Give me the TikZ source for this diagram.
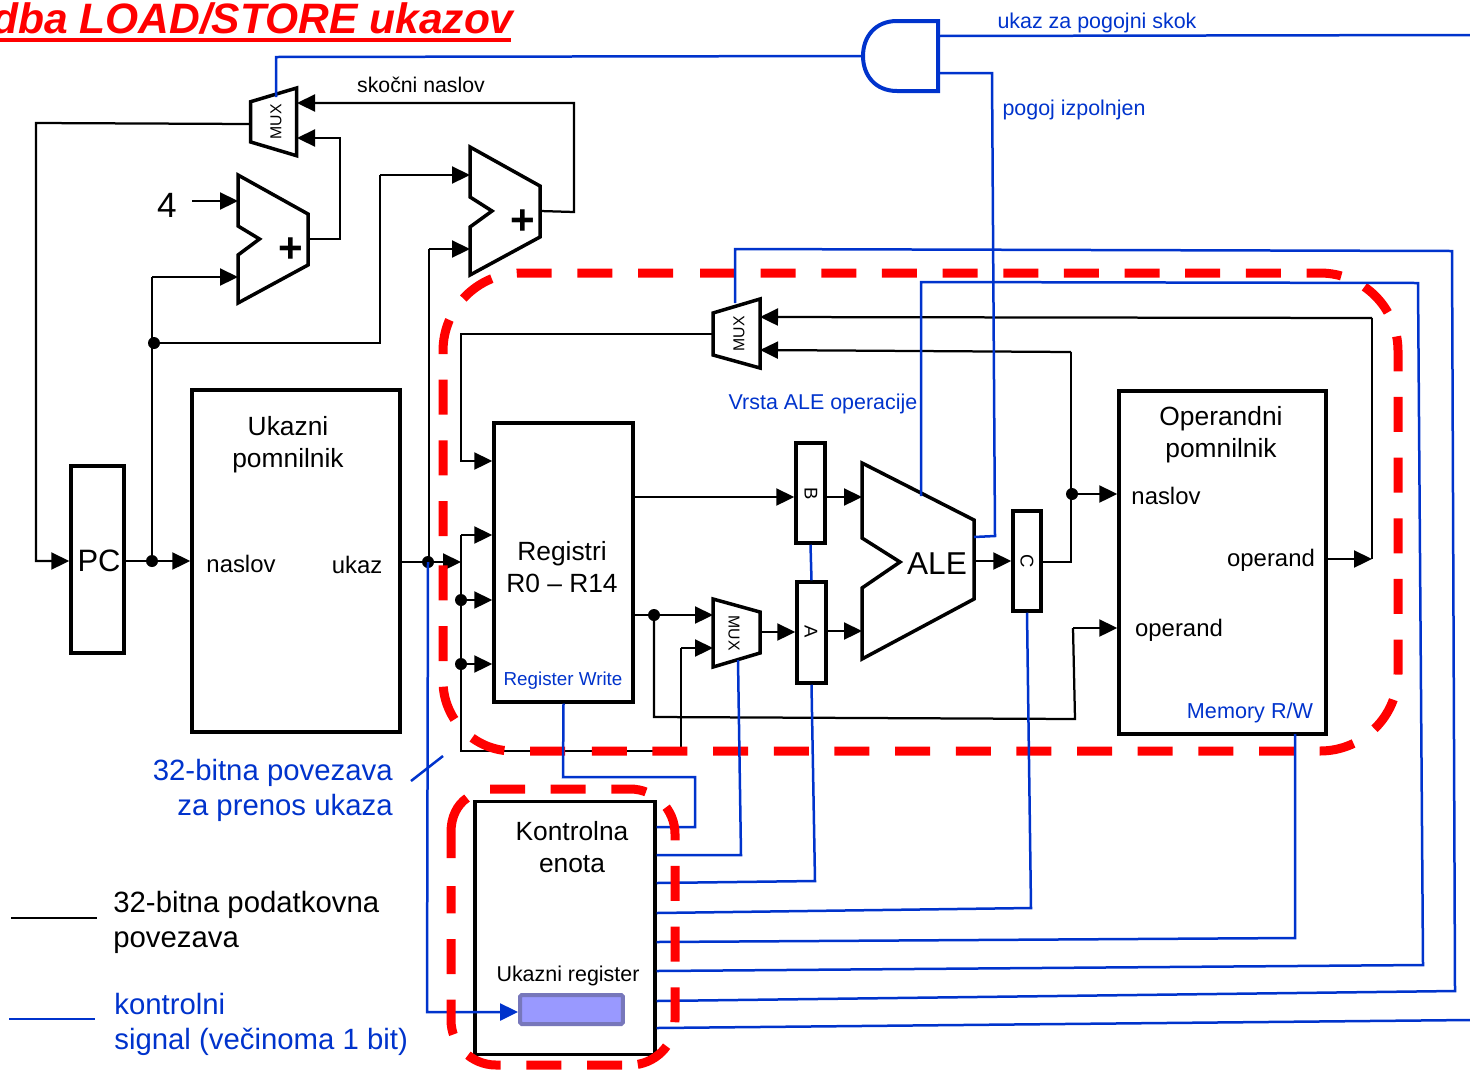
\documentclass[tikz,border=0pt]{standalone}
\usepackage{fontspec}
\setmainfont{Liberation Sans}
\usetikzlibrary{arrows.meta}
\definecolor{ctrlblue}{HTML}{0033CC}
\definecolor{regfill}{HTML}{9999FF}
\definecolor{regedge}{HTML}{7777BB}
\tikzset{
  unit/.style={draw,line width=0.07cm,line join=miter},
  box/.style={unit,rectangle,inner sep=0pt,fill=white},
  data/.style={line width=0.045cm,line join=miter},
  flow/.style={data,-{Triangle[length=0.36cm,width=0.34cm]}},
  ctrl/.style={line width=0.05cm,ctrlblue,line join=miter},
  ctrlflow/.style={ctrl,-{Triangle[length=0.36cm,width=0.34cm]}},
  dot/.style={circle,fill,inner sep=0pt,minimum size=0.24cm},
  zone/.style={red,line width=0.18cm,dash pattern=on 0.7cm off 0.5133cm},
  big/.style={font=\fontsize{15}{18.2}\selectfont,align=center},
  mid/.style={font=\fontsize{13.6}{16}\selectfont},
  small/.style={font=\fontsize{12.2}{14}\selectfont},
  side/.style={font=\fontsize{16.7}{19.9}\selectfont,align=left},
  muxlabel/.style={font=\fontsize{9}{10}\selectfont,inner sep=0pt},
  reglabel/.style={font=\fontsize{10.5}{12}\selectfont,inner sep=0pt,rotate=-90}
}
\begin{document}
\begin{tikzpicture}[x=0.02cm,y=-0.02cm]
  \useasboundingbox (0,0) rectangle (1470,1069);
  % ports
  \coordinate (muxaout) at (250,124);
  \coordinate (muxaina) at (297,103);
  \coordinate (muxainb) at (297,138);
  \coordinate (muxactl) at (276,97);
  \coordinate (addaout) at (308,239);
  \coordinate (addaina) at (238,201);
  \coordinate (addainb) at (238,277);
  \coordinate (addbout) at (540,211);
  \coordinate (addbina) at (470,175);
  \coordinate (addbinb) at (470,249);
  \coordinate (muxbout) at (713,334);
  \coordinate (muxbina) at (760,317);
  \coordinate (muxbinb) at (760,350);
  \coordinate (muxbctl) at (735,303);
  \coordinate (muxcina) at (713,615);
  \coordinate (muxcinb) at (713,648);
  \coordinate (muxcout) at (760,632);
  \coordinate (muxcctl) at (738,660);
  \coordinate (aleina) at (862,497);
  \coordinate (aleinb) at (862,631);
  \coordinate (aleout) at (974,561);
  \coordinate (alectl) at (921,496);
  \coordinate (alecond) at (974,537);
  \coordinate (gatein) at (863,56);
  \coordinate (gateout) at (938,36);
  \coordinate (gatecond) at (938,73);
  \coordinate (skokend) at (1470,35);
  \coordinate (lastend) at (1470,1020);
  % boxes
  \node[box,minimum width=1.06cm,minimum height=3.74cm] (pc) at (97.5,559.5) {};
  \node[box,minimum width=4.16cm,minimum height=6.84cm] (imem) at (296,561) {};
  \node[box,minimum width=2.78cm,minimum height=5.58cm] (regs) at (563.5,562.5) {};
  \node[box,minimum width=0.58cm,minimum height=2cm] (regb) at (810.5,493) {};
  \node[box,minimum width=0.58cm,minimum height=2.02cm] (rega) at (811.5,632.5) {};
  \node[box,minimum width=0.56cm,minimum height=2cm] (regc) at (1027,561) {};
  \node[box,minimum width=4.14cm,minimum height=6.86cm] (dmem) at (1222.5,562.5) {};
  \node[box,minimum width=3.6cm,minimum height=5.06cm] (cu) at (565,928) {};
  \node[draw=regedge,fill=regfill,line width=0.08cm,rounded corners=1pt,minimum width=2.06cm,minimum height=0.58cm,inner sep=0pt] (ir) at (571.5,1009.5) {};
  % shapes
  \draw[unit] (250.7,101.7) -- (296.6,88) -- (296.6,155.7) -- (250.7,142) -- cycle;
  \draw[unit] (238,175) -- (308,214) -- (308,265) -- (238,303) -- (238,255) -- (259.5,239) -- (238,226) -- cycle;
  \draw[unit] (470,147) -- (540,186) -- (540,237) -- (470,275) -- (470,227) -- (492,211) -- (470,197) -- cycle;
  \draw[unit] (713,313) -- (760,299) -- (760,368) -- (713,355) -- cycle;
  \draw[unit] (713,599) -- (760,612) -- (760,653) -- (713,667) -- cycle;
  \draw[unit] (862,463) -- (974,520) -- (974,599) -- (862,659) -- (862,588) -- (900,562) -- (862,538) -- cycle;
  % pc loop
  \draw[flow] (muxaout) -- (36,123) -- (36,561) -- (pc.west |- 0,561);
  \draw[flow] (pc.east |- 0,561) -- (imem.west |- 0,561);
  \draw[data] (152,561) -- (152,277);
  \draw[flow] (152,277) -- (addainb);
  \draw[data] (154,343) -- (380,343) -- (380,175);
  \draw[flow] (380,175) -- (addbina);
  \draw[flow] (addaout) -- (340,239) -- (340,138) -- (muxainb);
  \draw[flow] (addbout) -- (574,212) -- (574,103) -- (muxaina);
  \coordinate (fourend) at (192,201);
  \draw[flow] (fourend) -- (addaina);
  % instruction bus
  \draw[flow] (imem.east |- 0,562) -- (461,562);
  \draw[data] (429,562) -- (429,249);
  \draw[flow] (429,249) -- (addbinb);
  \draw[data] (461,535) -- (461,751) -- (681,751) -- (681,648);
  \draw[flow] (461,535) -- (regs.west |- 0,535);
  \draw[flow] (461,600) -- (regs.west |- 0,600);
  \draw[flow] (461,664) -- (regs.west |- 0,664);
  \draw[flow] (681,648) -- (muxcinb);
  \draw[flow] (muxbout) -- (461,334) -- (461,461) -- (regs.west |- 0,461);
  % data path
  \draw[flow] (regs.east |- 0,497) -- (regb.west |- 0,497);
  \draw[flow] (regb.east |- 0,497) -- (aleina);
  \draw[flow] (regs.east |- 0,615) -- (muxcina);
  \draw[flow] (muxcout) -- (rega.west |- 0,632);
  \draw[flow] (rega.east |- 0,631) -- (aleinb);
  \draw[flow] (aleout) -- (regc.west |- 0,561);
  \draw[data] (regc.east |- 0,562) -- (1071,562) -- (1071,352);
  \draw[flow] (1071,352) -- (muxbinb);
  \draw[flow] (1071,494) -- (dmem.west |- 0,494);
  \draw[flow] (dmem.east |- 0,559) -- (1372,559);
  \draw[data] (1372,559) -- (1372,318);
  \draw[flow] (1372,318) -- (muxbina);
  \draw[data] (654,615) -- (654,717) -- (1075,719) -- (1073,628);
  \draw[flow] (1073,628) -- (dmem.west |- 0,628);
  % junctions
  \node[dot] (jpc) at (152,561) {};
  \node[dot] (jinc) at (154,343) {};
  \node[dot] (jir) at (428,562) {};
  \node[dot] (jwa) at (461,600) {};
  \node[dot] (jwb) at (461,664) {};
  \node[dot] (jrd) at (654,615) {};
  \node[dot] (jadr) at (1072,494) {};
  % dashed zone round the data path
  \draw[zone,rounded corners=1.56cm] (700,273) -- (1398,273) -- (1398,751) -- (567,751);
  \draw[zone,rounded corners=1.4cm] (565,751) -- (443,751) -- (443,548);
  \draw[zone,rounded corners=1.56cm] (443,536) -- (443,273) -- (690,273);
  % control lines
  \draw[ctrl,line width=0.08cm] (897,21) -- (938,21) -- (938,91) -- (897,91) .. controls (875,91) and (863,75) .. (863,56) .. controls (863,37) and (875,21) .. (897,21) -- cycle;
  \draw[ctrl] (gatein) -- (276,57) -- (muxactl);
  \draw[ctrl] (gateout) -- (skokend);
  \draw[ctrl] (gatecond) -- (992,73) -- (995,536) -- (alecond);
  \draw[ctrl] (regb.south) -- (rega.north);
  \draw[ctrl] (regs.south) -- (563,777) -- (695,777) -- (695,827) -- (cu.east |- 0,827);
  \draw[ctrl] (muxcctl) -- (741,855) -- (cu.east |- 0,855);
  \draw[ctrl] (rega.south) -- (815,881) -- (cu.east |- 0,883);
  \draw[ctrl] (regc.south) -- (1031,908) -- (cu.east |- 0,913);
  \draw[ctrl] (1295,734) -- (1295,938) -- (cu.east |- 0,942);
  \draw[ctrl] (alectl) -- (921,282) -- (1418,283) -- (1423,965) -- (cu.east |- 0,971);
  \draw[ctrl] (muxbctl) -- (735,249) -- (1452,251) -- (1455,991) -- (cu.east |- 0,1001);
  \draw[ctrl] (cu.east |- 0,1028) -- (lastend);
  \draw[ctrlflow] (428,562) -- (427,1012) -- (ir.west |- 0,1012);
  \coordinate (ticka) at (411,781);
  \coordinate (tickb) at (443,756);
  \draw[ctrl] (ticka) -- (tickb);
  % dashed zone round the control unit
  \draw[zone,rounded corners=0.9cm] (490,789) -- (675,789) -- (675,1065) -- (626,1065);
  \draw[zone,rounded corners=0.9cm] (622,1065) -- (451,1065) -- (451,886);
  \draw[red,line width=0.18cm] (451,858) -- (451,832) .. controls (451,817) and (457,805) .. (467,798);
  % title
  \node[anchor=base east,inner sep=0pt,text=red,font=\fontsize{24.2}{28}\bfseries\itshape\selectfont] (title) at (514,33) {dba LOAD/STORE ukazov};
  \coordinate (rulea) at (0,39.5);
  \coordinate (ruleb) at (511,39.5);
  \draw[red,line width=0.08cm] (rulea) -- (ruleb);
  % labels
  \node[font=\fontsize{12.1}{14}\selectfont] (jump) at (421,85) {skočni naslov};
  \node[font=\fontsize{20}{24}\selectfont] (four) at (167,205) {4};
  \node[font=\fontsize{24}{24}\bfseries\selectfont,inner sep=0pt] (plusa) at (291,250) {+};
  \node[font=\fontsize{24}{24}\bfseries\selectfont,inner sep=0pt] (plusb) at (523,222) {+};
  \node[font=\fontsize{17.6}{20}\selectfont,inner sep=0pt] (pctxt) at (99,561) {PC};
  \node[big] (imemtxt) at (288,445) {Ukazni\\pomnilnik};
  \node[mid] (imemad) at (241,564) {naslov};
  \node[mid] (imemout) at (357,565) {ukaz};
  \node[big] (regstxt) at (562,567) {Registri\\R0 – R14};
  \node[font=\fontsize{10.7}{12}\selectfont,text=ctrlblue] (regwr) at (563,681) {Register Write};
  \node[big] (dmemtxt) at (1221,435) {Operandni\\pomnilnik};
  \node[mid] (dmemad) at (1166,496) {naslov};
  \node[mid] (dmemout) at (1271,560) {operand};
  \node[mid] (dmemin) at (1179,630) {operand};
  \node[font=\fontsize{12.3}{14}\selectfont,text=ctrlblue] (memrw) at (1250,713) {Memory R/W};
  \node[big] (cutxt) at (572,847) {Kontrolna\\enota};
  \node[small] (irtxt) at (568,976) {Ukazni register};
  \node[font=\fontsize{18}{20}\selectfont,inner sep=0pt] (aletxt) at (937,564) {ALE};
  \node[small,text=ctrlblue] (aleop) at (823,404) {Vrsta ALE operacije};
  \node[small,text=ctrlblue] (cond) at (1074,110) {pogoj izpolnjen};
  \node[small,text=ctrlblue] (skok) at (1097,23) {ukaz za pogojni skok};
  \node[muxlabel,rotate=90] (muxatxt) at (276,122) {MUX};
  \node[muxlabel,rotate=90] (muxbtxt) at (739,334) {MUX};
  \node[muxlabel,rotate=-90] (muxctxt) at (734,633) {MUX};
  \node[reglabel] (btxt) at (811,494) {B};
  \node[reglabel] (atxt) at (811,632) {A};
  \node[reglabel] (ctxt) at (1027,561) {C};
  \node[side,anchor=east,align=right,text=ctrlblue,inner sep=0pt] (bustxt) at (393,790.5) {32-bitna povezava\\za prenos ukaza};
  \coordinate (keya) at (11,918);
  \coordinate (keyb) at (97,918);
  \draw[data] (keya) -- (keyb);
  \node[side,anchor=west,inner sep=0pt] (keydata) at (113,922.5) {32-bitna podatkovna\\povezava};
  \coordinate (keyc) at (9,1019);
  \coordinate (keyd) at (95,1019);
  \draw[ctrl] (keyc) -- (keyd);
  \node[side,anchor=west,text=ctrlblue,inner sep=0pt] (keyctrl) at (114,1024) {kontrolni\\signal (večinoma 1 bit)};
\end{tikzpicture}
\end{document}
